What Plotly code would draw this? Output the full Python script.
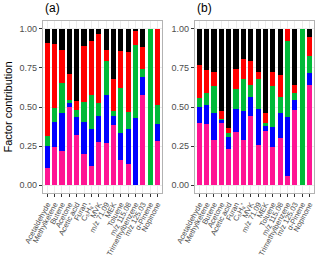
import plotly.graph_objects as go

categories = ["Acetaldehyde", "Methylketene", "Butene", "Acetone", "Acetic acid", "Furan",
              "C₅H₈⁺", "MVK", "m/z 71.09", "MEK", "Toluene", "m/z 115.08",
              "Trimethylbenzene", "m/z 125.03", "α-Pinene", "Nopinone"]

factor_names = ["F1", "F2", "F3", "F4", "F5"]
factor_colors = ["#FF1493", "#0000FF", "#00BA38", "#FF0000", "#000000"]

# cumulative tops (bottom to top: magenta, blue, green, red, black)
a_cum = [
    [0.111, 0.253, 0.315, 0.910],
    [0.242, 0.407, 0.497, 0.906],
    [0.220, 0.460, 0.653, 0.867],
    [0.499, 0.529, 0.546, 0.713],
    [0.321, 0.435, 0.482, 0.540],
    [0.199, 0.403, 0.535, 0.893],
    [0.124, 0.360, 0.574, 0.921],
    [0.274, 0.443, 0.525, 0.964],
    [0.268, 0.574, 0.792, 0.867],
    [0.385, 0.443, 0.475, 0.679],
    [0.161, 0.332, 0.625, 0.857],
    [0.135, 0.358, 0.467, 0.850],
    [0.000, 0.428, 0.899, 0.990],
    [0.578, 0.690, 0.745, 0.884],
    [0.000, 0.000, 1.000, 1.000],
    [0.283, 0.390, 0.510, 1.000],
]
b_cum = [
    [0.396, 0.499, 0.561, 0.767],
    [0.392, 0.514, 0.593, 0.739],
    [0.289, 0.465, 0.636, 0.722],
    [0.396, 0.418, 0.426, 0.475],
    [0.231, 0.306, 0.336, 0.368],
    [0.338, 0.488, 0.615, 0.743],
    [0.289, 0.475, 0.679, 0.807],
    [0.443, 0.563, 0.638, 0.797],
    [0.257, 0.486, 0.681, 0.722],
    [0.347, 0.379, 0.400, 0.465],
    [0.246, 0.375, 0.632, 0.722],
    [0.304, 0.465, 0.567, 0.707],
    [0.060, 0.439, 0.925, 1.000],
    [0.478, 0.542, 0.589, 0.638],
    [0.000, 0.000, 1.000, 1.000],
    [0.642, 0.717, 0.829, 0.946],
]

def to_parts(cum):
    parts = [[] for _ in range(5)]
    for row in cum:
        prev = 0.0
        for k, v in enumerate(row + [1.0]):
            parts[k].append(max(v - prev, 0.0))
            prev = v
    return parts

a_parts = to_parts(a_cum)
b_parts = to_parts(b_cum)

fig = go.Figure()
for panel, parts in (("", a_parts), ("2", b_parts)):
    for k in range(5):
        fig.add_trace(go.Bar(x=categories, y=parts[k], name=factor_names[k],
                             marker=dict(color=factor_colors[k], line=dict(width=0)),
                             width=0.7, showlegend=False,
                             xaxis="x" + panel, yaxis="y" + panel))

FONT = "Liberation Sans, Arial, sans-serif"
axis_font = dict(family=FONT, size=9, color="#4d4d4d")
xcommon = dict(type="category", tickmode="array", tickvals=categories, ticktext=categories,
               tickangle=-62, tickfont=dict(family=FONT, size=7.5, color="#4d4d4d"),
               ticklabeloverflow="allow", automargin=False,
               showgrid=True, gridcolor="#ebebeb", gridwidth=1, ticks="outside", ticklen=3,
               tickcolor="#333333", showline=True, mirror=True, linecolor="#b3b3b3",
               linewidth=1, zeroline=False, range=[-0.6, 15.6])
ycommon = dict(range=[-0.05, 1.05], tickvals=[0, 0.25, 0.5, 0.75, 1.0],
               ticktext=["0.00", "0.25", "0.50", "0.75", "1.00"], tickfont=axis_font,
               automargin=False,
               showgrid=True, gridcolor="#ebebeb", gridwidth=1, ticks="outside", ticklen=3,
               tickcolor="#333333", showline=True, mirror=True, linecolor="#b3b3b3",
               linewidth=1, zeroline=False)

fig.update_layout(
    width=320, height=263, barmode="stack",
    margin=dict(l=0, r=0, t=0, b=0),
    paper_bgcolor="white", plot_bgcolor="white",
    xaxis=dict(domain=[0.134, 0.506], anchor="y", **xcommon),
    yaxis=dict(domain=[0.266, 0.920], anchor="x",
               title=dict(text="Factor contribution", font=dict(family=FONT, size=11, color="black"), standoff=4),
               **ycommon),
    xaxis2=dict(domain=[0.609, 0.981], anchor="y2", **xcommon),
    yaxis2=dict(domain=[0.266, 0.920], anchor="x2", **ycommon),
    annotations=[
        dict(text="(a)", x=0.134, y=0.935, xref="paper", yref="paper", xanchor="left",
             yanchor="bottom", showarrow=False, font=dict(family=FONT, size=12, color="black")),
        dict(text="(b)", x=0.609, y=0.935, xref="paper", yref="paper", xanchor="left",
             yanchor="bottom", showarrow=False, font=dict(family=FONT, size=12, color="black")),
    ],
)

fig.write_html("out.html", config={"displayModeBar": False},
               post_script="document.body.style.margin='0px';document.body.style.overflow='hidden';")
